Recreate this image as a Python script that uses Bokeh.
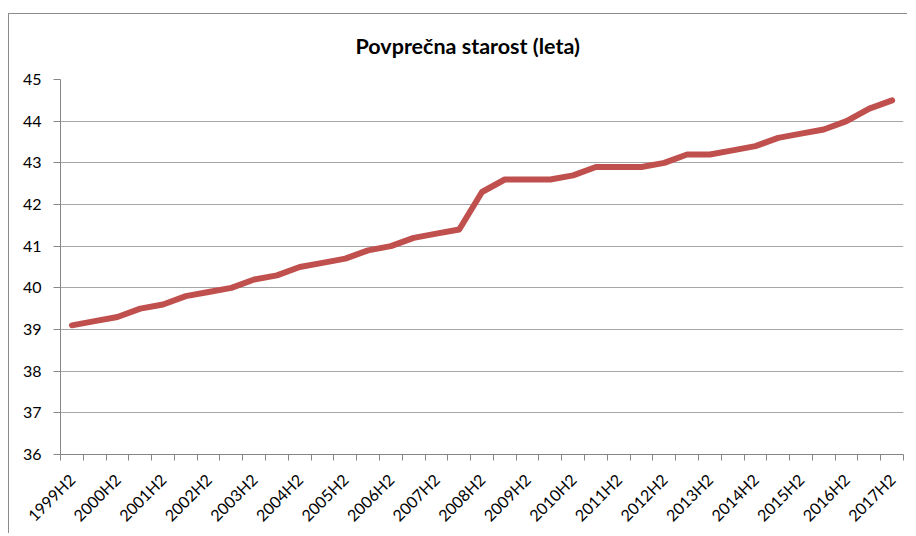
import math
from bokeh.plotting import figure
from bokeh.models import FixedTicker, Range1d, Title
from bokeh.embed import file_html
from bokeh.resources import INLINE

periods = [
    "1999H2", "2000H1", "2000H2", "2001H1", "2001H2", "2002H1", "2002H2",
    "2003H1", "2003H2", "2004H1", "2004H2", "2005H1", "2005H2", "2006H1",
    "2006H2", "2007H1", "2007H2", "2008H1", "2008H2", "2009H1", "2009H2",
    "2010H1", "2010H2", "2011H1", "2011H2", "2012H1", "2012H2", "2013H1",
    "2013H2", "2014H1", "2014H2", "2015H1", "2015H2", "2016H1", "2016H2",
    "2017H1", "2017H2",
]
avg_age = [
    39.1, 39.2, 39.3, 39.5, 39.6, 39.8, 39.9,
    40.0, 40.2, 40.3, 40.5, 40.6, 40.7, 40.9,
    41.0, 41.2, 41.3, 41.4, 42.3, 42.6, 42.6,
    42.6, 42.7, 42.9, 42.9, 42.9, 43.0, 43.2,
    43.2, 43.3, 43.4, 43.6, 43.7, 43.8, 44.0,
    44.3, 44.5,
]
y_ticks = [36, 37, 38, 39, 40, 41, 42, 43, 44, 45]
title_text = "Povprečna starost (leta)"

FONT = "Lato"
AXIS_COL = "#868686"

idx = list(range(len(periods)))

p = figure(
    width=899, height=520,
    output_backend="svg", toolbar_location=None,
    x_range=Range1d(-0.5, len(periods) - 0.5),
    y_range=Range1d(y_ticks[0], y_ticks[-1]),
    min_border_left=51, min_border_right=5,
    min_border_top=65, min_border_bottom=79,
)
p.styles = {"margin-left": "8px", "margin-top": "13px",
            "border-left": "1px solid #8c8c8c", "border-top": "1px solid #8c8c8c"}

p.add_layout(Title(text=title_text, align="left", offset=295, standoff=37,
                   vertical_align="top",
                   text_font=FONT, text_font_size="21.5px", text_font_style="bold",
                   text_color="#000000"), "above")

p.line(idx, avg_age, line_color="#C0504D", line_width=6,
       line_join="round", line_cap="round")

p.outline_line_color = None
p.background_fill_color = "white"
p.border_fill_color = "white"

# x axis
xa = p.xaxis[0]
xa.ticker = FixedTicker(ticks=idx[::2],
                        minor_ticks=[i - 0.5 for i in range(len(periods) + 1)])
xa.major_label_overrides = {i: periods[i] for i in idx[::2]}
xa.major_tick_line_color = None
xa.minor_tick_line_color = AXIS_COL
xa.minor_tick_in = 0
xa.minor_tick_out = 6
xa.axis_line_color = AXIS_COL
xa.major_label_orientation = math.pi / 4
xa.major_label_standoff = 16
xa.major_label_text_font = FONT
xa.major_label_text_font_size = "16px"
xa.major_label_text_color = "#000000"

# y axis
ya = p.yaxis[0]
ya.ticker = FixedTicker(ticks=y_ticks)
ya.minor_tick_line_color = None
ya.major_tick_line_color = AXIS_COL
ya.major_tick_in = 0
ya.major_tick_out = 7
ya.axis_line_color = AXIS_COL
ya.major_label_standoff = 12
ya.major_label_text_font = FONT
ya.major_label_text_font_size = "16px"
ya.major_label_text_color = "#000000"

p.xgrid.visible = False
p.ygrid.ticker = FixedTicker(ticks=y_ticks)
p.ygrid.grid_line_color = "#a6a6a6"
p.ygrid.grid_line_width = 1

open("out.html", "w").write(file_html(p, INLINE))
